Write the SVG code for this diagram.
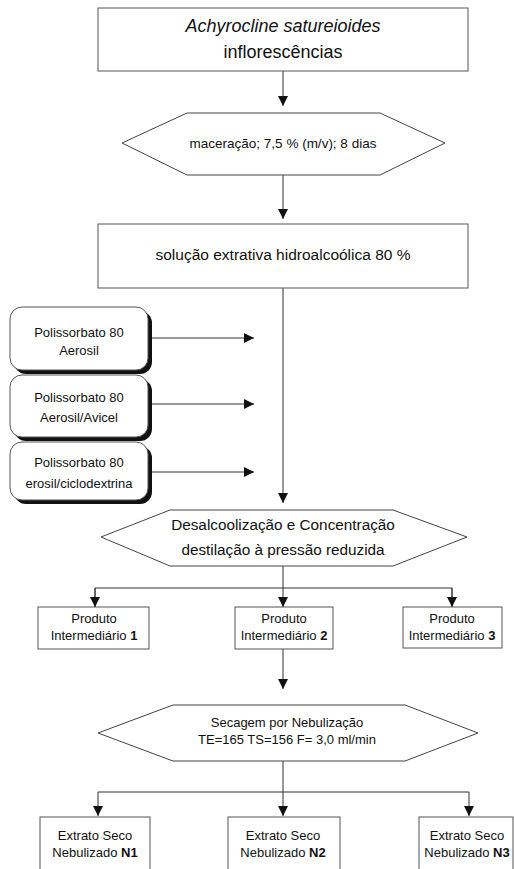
<svg xmlns="http://www.w3.org/2000/svg" width="514" height="869" viewBox="0 0 514 869">
<defs>
<style>
text{font-family:"Liberation Sans",Arial,sans-serif;fill:#111;text-anchor:middle}
.box{fill:#fff;stroke:#555;stroke-width:1}
.hex{fill:#fff;stroke:#444;stroke-width:1}
.shadow{fill:#111}
.line{fill:none;stroke:#333;stroke-width:1}
.arr{fill:none;stroke:#333;stroke-width:1;marker-end:url(#ah)}
.s13{font-size:13px}
.b{font-weight:bold}
</style>
<marker id="ah" markerUnits="userSpaceOnUse" markerWidth="10" markerHeight="10" refX="10" refY="5" orient="auto">
<path d="M0,0 L10,5 L0,10 z" fill="#111"/>
</marker>
</defs>
<rect width="514" height="869" fill="#fff"/>

<g id="connectors">
<line class="arr" x1="283" y1="71" x2="283" y2="106"/>
<line class="arr" x1="283" y1="175" x2="283" y2="219"/>
<line class="arr" x1="283" y1="288" x2="283" y2="503"/>
<line class="arr" x1="148" y1="338" x2="254" y2="338"/>
<line class="arr" x1="148" y1="404" x2="254" y2="404"/>
<line class="arr" x1="148" y1="472" x2="254" y2="472"/>
<line class="arr" x1="283" y1="566" x2="283" y2="607"/>
<polyline class="line" points="95,607 95,588 452,588 452,607"/>
<line class="arr" x1="95" y1="588" x2="95" y2="607"/>
<line class="arr" x1="452" y1="588" x2="452" y2="607"/>
<line class="arr" x1="283" y1="649" x2="283" y2="689"/>
<line class="arr" x1="283" y1="761" x2="283" y2="816"/>
<polyline class="line" points="98,792 469,792"/>
<line class="arr" x1="98" y1="792" x2="98" y2="816"/>
<line class="arr" x1="469" y1="792" x2="469" y2="816"/>
</g>

<g id="n-planta">
<rect class="box" x="98" y="8" width="370" height="63"/>
<text x="283" y="32" font-size="18" font-style="italic">Achyrocline satureioides</text>
<text x="283" y="58" font-size="18">inflorescências</text>
</g>

<g id="n-maceracao">
<polygon class="hex" points="122,143 187,113 380,113 445,143 380,175 187,175"/>
<text x="283" y="148" font-size="13.5">maceração; 7,5 % (m/v); 8 dias</text>
</g>

<g id="n-solucao">
<rect class="box" x="98" y="224" width="370" height="64"/>
<text x="283" y="260" font-size="15.5">solução extrativa hidroalcoólica 80 %</text>
</g>

<g id="n-adj1">
<rect class="shadow" x="14" y="311" width="138" height="63" rx="12"/>
<rect class="box" x="10" y="307" width="138" height="63" rx="12"/>
<text class="s13" x="79" y="337">Polissorbato 80</text>
<text class="s13" x="79" y="355">Aerosil</text>
</g>

<g id="n-adj2">
<rect class="shadow" x="14" y="379" width="138" height="62" rx="12"/>
<rect class="box" x="10" y="375" width="138" height="62" rx="12"/>
<text class="s13" x="79" y="402">Polissorbato 80</text>
<text class="s13" x="79" y="422">Aerosil/Avicel</text>
</g>

<g id="n-adj3">
<rect class="shadow" x="14" y="446" width="138" height="58" rx="12"/>
<rect class="box" x="10" y="442" width="138" height="58" rx="12"/>
<text class="s13" x="79" y="467">Polissorbato 80</text>
<text class="s13" x="79" y="488">erosil/ciclodextrina</text>
</g>

<g id="n-desalcoolizacao">
<polygon class="hex" points="101,537 170,510 393,510 467,537 393,566 170,566"/>
<text x="283" y="530" font-size="15.3">Desalcoolização e Concentração</text>
<text x="283" y="555" font-size="15.3">destilação à pressão reduzida</text>
</g>

<g id="n-pi1">
<rect class="box" x="38" y="607" width="111" height="42"/>
<text class="s13" x="94" y="623">Produto</text>
<text class="s13" x="94" y="640">Intermediário <tspan class="b">1</tspan></text>
</g>

<g id="n-pi2">
<rect class="box" x="235" y="607" width="98" height="42"/>
<text class="s13" x="284" y="623">Produto</text>
<text class="s13" x="284" y="640">Intermediário <tspan class="b">2</tspan></text>
</g>

<g id="n-pi3">
<rect class="box" x="403" y="607" width="99" height="41"/>
<text class="s13" x="452" y="623">Produto</text>
<text class="s13" x="452" y="640">Intermediário <tspan class="b">3</tspan></text>
</g>

<g id="n-secagem">
<polygon class="hex" points="98,733 173,705 405,705 478,733 405,761 173,761"/>
<text class="s13" x="287" y="727">Secagem por Nebulização</text>
<text class="s13" x="287" y="744">TE=165 TS=156 F= 3,0 ml/min</text>
</g>

<g id="n-n1">
<rect class="box" x="40" y="817" width="110" height="60"/>
<text class="s13" x="95" y="840">Extrato Seco</text>
<text class="s13" x="95" y="857">Nebulizado <tspan class="b">N1</tspan></text>
</g>

<g id="n-n2">
<rect class="box" x="228" y="817" width="112" height="60"/>
<text class="s13" x="283" y="840">Extrato Seco</text>
<text class="s13" x="283" y="857">Nebulizado <tspan class="b">N2</tspan></text>
</g>

<g id="n-n3">
<rect class="box" x="419" y="817" width="94" height="60"/>
<text class="s13" x="467" y="840">Extrato Seco</text>
<text class="s13" x="467" y="857">Nebulizado <tspan class="b">N3</tspan></text>
</g>
</svg>
